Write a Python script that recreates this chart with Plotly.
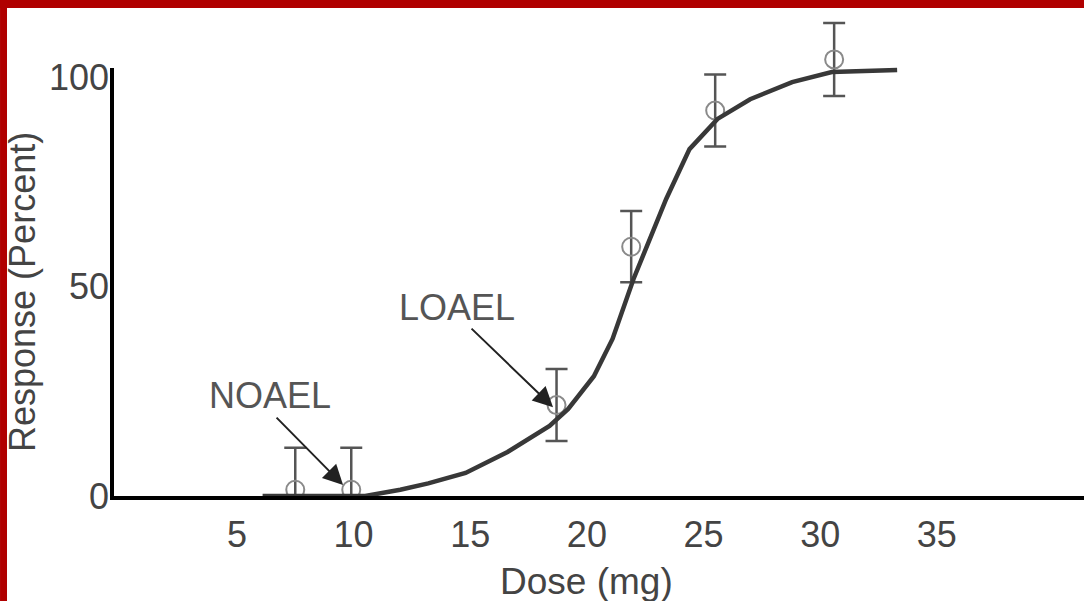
import plotly.graph_objects as go

# fitted dose-response curve
fit_dose = [6.1, 10.5, 12.0, 13.2, 14.8, 16.6, 18.4, 19.2, 20.3, 21.1, 22.0, 22.7, 23.4, 24.4, 25.6, 27.0, 28.8, 30.5, 33.3]
fit_resp = [0, 0, 1.5, 3.0, 5.5, 10.5, 16.7, 20.8, 28.6, 37.5, 51.8, 61.3, 70.9, 82.8, 90.0, 94.7, 98.8, 101.2, 101.7]

# observed means with error bars
obs_dose = [7.5, 9.9, 18.7, 21.9, 25.5, 30.6]
obs_resp = [1.5, 1.5, 21.7, 59.5, 92.0, 104.2]
err_plus = [10.0, 10.0, 8.6, 8.5, 8.6, 8.7]
err_minus = [7.0, 6.0, 8.6, 8.5, 8.6, 8.7]

x_ticks = [5, 10, 15, 20, 25, 30, 35]
y_ticks = [0, 50, 100]

noael = (9.55, 2.6)
loael = (18.55, 21.2)

FONT = "Liberation Sans, Arial, sans-serif"
RED = "#b00000"

fig = go.Figure()

fig.add_trace(go.Scatter(
    x=obs_dose, y=obs_resp,
    mode="markers",
    marker=dict(symbol="circle-open", size=18, color="#8a8a8a", line=dict(width=2)),
    error_y=dict(type="data", symmetric=False, array=err_plus, arrayminus=err_minus,
                 color="#555555", thickness=2.5, width=11),
    cliponaxis=False,
    hoverinfo="skip",
))

fig.add_trace(go.Scatter(
    x=fit_dose, y=fit_resp,
    mode="lines",
    line=dict(color="#383838", width=4.5),
    cliponaxis=False,
    hoverinfo="skip",
))

# labels with arrows
fig.add_annotation(x=noael[0], y=noael[1], text="", showarrow=True, ax=-68, ay=-69,
                   arrowhead=2, arrowsize=2, arrowwidth=2, arrowcolor="#222222")
fig.add_annotation(x=loael[0], y=loael[1], text="", showarrow=True, ax=-83, ay=-80,
                   arrowhead=2, arrowsize=2, arrowwidth=2, arrowcolor="#222222")
fig.add_annotation(x=6.42, y=23.9, text="NOAEL", showarrow=False,
                   font=dict(size=36, color="#555555", family=FONT))
fig.add_annotation(x=14.43, y=44.9, text="LOAEL", showarrow=False,
                   font=dict(size=36, color="#555555", family=FONT))

# axis titles
fig.add_annotation(x=-0.0938, y=0.4198, xref="paper", yref="paper", text="Response (Percent)",
                   textangle=-90, showarrow=False, xanchor="center", yanchor="middle",
                   font=dict(size=36, color="#444444", family=FONT))
fig.add_annotation(x=0.4876, y=-0.1750, xref="paper", yref="paper", text="Dose (mg)",
                   showarrow=False, xanchor="center", yanchor="middle",
                   font=dict(size=37, color="#444444", family=FONT))

# y axis line stops at the 100 level, the data above it still shows
fig.add_shape(type="line", xref="paper", yref="paper", x0=-0.00206, x1=-0.00206,
              y0=-0.0082, y1=0.8807, line=dict(color="black", width=4))

# red frame along top and left edges
fig.add_shape(type="rect", xref="paper", yref="paper", x0=-0.1175, x1=1.0, y0=1.0041, y1=1.03,
              fillcolor=RED, line_width=0, layer="above")
fig.add_shape(type="rect", xref="paper", yref="paper", x0=-0.1175, x1=-0.1103, y0=-0.23, y1=1.03,
              fillcolor=RED, line_width=0, layer="above")

fig.update_layout(
    width=1084, height=601,
    margin=dict(l=114, r=0, t=10, b=105),
    paper_bgcolor="white", plot_bgcolor="white",
    showlegend=False,
    font=dict(family=FONT, size=36, color="#444444"),
    xaxis=dict(range=[-0.27, 41.31], tickvals=x_ticks, showgrid=False, zeroline=False,
               showline=True, linewidth=4, linecolor="black", ticks="", fixedrange=True,
               ticklabelstandoff=4),
    yaxis=dict(range=[0, 116.0], tickvals=y_ticks, showgrid=False, zeroline=False,
               showline=False, ticks="", fixedrange=True, ticklabelstandoff=4),
)

fig.write_html("out.html", config={"displayModeBar": False},
               post_script="document.body.style.margin='0';")
